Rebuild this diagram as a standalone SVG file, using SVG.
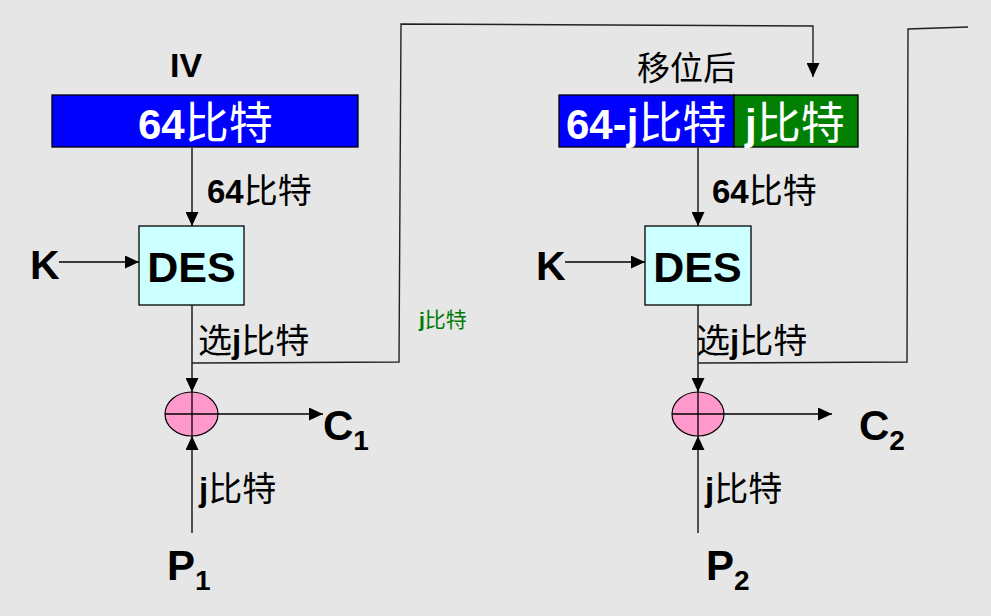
<svg xmlns="http://www.w3.org/2000/svg" width="991" height="616" viewBox="0 0 991 616">
<style>
  .lat { font-family: "Liberation Sans", Arial, "Noto Sans CJK SC", sans-serif; font-weight: bold; }
  .cjk { font-family: "Noto Sans CJK SC", sans-serif; font-weight: normal; }
  .w { fill: #ffffff; }
  .k { fill: #000000; }
  .ln { stroke: #000; stroke-width: 1.3; fill: none; }
  .fb { stroke: #222; stroke-width: 1.4; fill: none; }
  .box { stroke: #000; stroke-width: 1.3; }
</style>
<defs>
  <marker id="ah" markerUnits="userSpaceOnUse" markerWidth="15" markerHeight="13" refX="14" refY="6.5" orient="auto">
    <path d="M0,0 L14,6.5 L0,13 z" fill="#000"/>
  </marker>
</defs>
<rect x="0" y="0" width="991" height="616" fill="#e6e6e6"/>

<g id="connectors">
  <line class="ln" x1="192" y1="148" x2="192" y2="226" marker-end="url(#ah)"/>
  <line class="ln" x1="59" y1="262" x2="139" y2="262" marker-end="url(#ah)"/>
  <line class="ln" x1="192" y1="305" x2="192" y2="392" marker-end="url(#ah)"/>
  <line class="ln" x1="218" y1="414" x2="323" y2="414" marker-end="url(#ah)"/>
  <line class="ln" x1="192" y1="533" x2="192" y2="436" marker-end="url(#ah)"/>
  <polyline class="fb" points="192,363 399,362 401,24 813,26 813,77" marker-end="url(#ah)"/>

  <line class="ln" x1="698" y1="148" x2="698" y2="226" marker-end="url(#ah)"/>
  <line class="ln" x1="565" y1="262" x2="645" y2="262" marker-end="url(#ah)"/>
  <line class="ln" x1="698" y1="305" x2="698" y2="392" marker-end="url(#ah)"/>
  <line class="ln" x1="724" y1="414" x2="832" y2="414" marker-end="url(#ah)"/>
  <line class="ln" x1="698" y1="533" x2="698" y2="436" marker-end="url(#ah)"/>
  <polyline class="fb" points="698,363 907,362 908,29 968,27"/>
</g>

<g id="iv">
  <text class="lat k" x="170" y="77" font-size="34">IV</text>
  <rect class="box" x="52" y="95" width="306" height="52" fill="#0000ff"/>
  <text class="lat w" x="138" y="139" font-size="42">64<tspan class="cjk" font-size="44">比特</tspan></text>
  <text class="lat k" x="207" y="203" font-size="33">64<tspan class="cjk" font-size="34">比特</tspan></text>
</g>

<g id="k1"><text class="lat k" x="30" y="279" font-size="41">K</text></g>
<g id="des1">
  <rect class="box" x="139" y="226" width="105" height="79" fill="#ccffff"/>
  <text class="lat k" x="191.5" y="282" font-size="43" text-anchor="middle">DES</text>
</g>
<g id="sel1"><text class="lat k" x="198" y="353" font-size="33"><tspan class="cjk" font-size="34">选</tspan>j<tspan class="cjk" font-size="34">比特</tspan></text></g>
<g id="xor1">
  <ellipse cx="191.5" cy="414" rx="26.5" ry="22" fill="#ff99cc" stroke="#000" stroke-width="1.2"/>
  <line class="ln" x1="165" y1="414" x2="218" y2="414"/>
  <line class="ln" x1="192" y1="392" x2="192" y2="436"/>
</g>
<g id="c1"><text class="lat k" x="323" y="440" font-size="42">C<tspan font-size="28" dy="10">1</tspan></text></g>
<g id="pj1"><text class="lat k" x="199" y="501" font-size="33">j<tspan class="cjk" font-size="34">比特</tspan></text></g>
<g id="p1"><text class="lat k" x="167" y="580" font-size="42">P<tspan font-size="28" dy="10">1</tspan></text></g>

<g id="jlabel"><text class="lat" x="419" y="327" font-size="21" fill="#007a00">j<tspan class="cjk">比特</tspan></text></g>

<g id="shift">
  <text class="cjk k" x="637" y="80" font-size="33">移位后</text>
  <rect class="box" x="559" y="95" width="175" height="52" fill="#0000ff"/>
  <rect class="box" x="734" y="95" width="124" height="52" fill="#008000"/>
  <text class="lat w" x="566" y="139" font-size="42">64-j<tspan class="cjk" font-size="44">比特</tspan></text>
  <text class="lat w" x="745" y="139" font-size="42">j<tspan class="cjk" font-size="44">比特</tspan></text>
  <text class="lat k" x="712" y="203" font-size="33">64<tspan class="cjk" font-size="34">比特</tspan></text>
</g>

<g id="k2"><text class="lat k" x="536" y="280" font-size="41">K</text></g>
<g id="des2">
  <rect class="box" x="645" y="226" width="106" height="79" fill="#ccffff"/>
  <text class="lat k" x="697.5" y="282" font-size="43" text-anchor="middle">DES</text>
</g>
<g id="sel2"><text class="lat k" x="696" y="353" font-size="33"><tspan class="cjk" font-size="34">选</tspan>j<tspan class="cjk" font-size="34">比特</tspan></text></g>
<g id="xor2">
  <ellipse cx="698" cy="414" rx="26" ry="22" fill="#ff99cc" stroke="#000" stroke-width="1.2"/>
  <line class="ln" x1="672" y1="414" x2="724" y2="414"/>
  <line class="ln" x1="698" y1="392" x2="698" y2="436"/>
</g>
<g id="c2"><text class="lat k" x="859" y="440" font-size="42">C<tspan font-size="28" dy="10">2</tspan></text></g>
<g id="pj2"><text class="lat k" x="705" y="501" font-size="33">j<tspan class="cjk" font-size="34">比特</tspan></text></g>
<g id="p2"><text class="lat k" x="706" y="580" font-size="42">P<tspan font-size="28" dy="10">2</tspan></text></g>
</svg>
